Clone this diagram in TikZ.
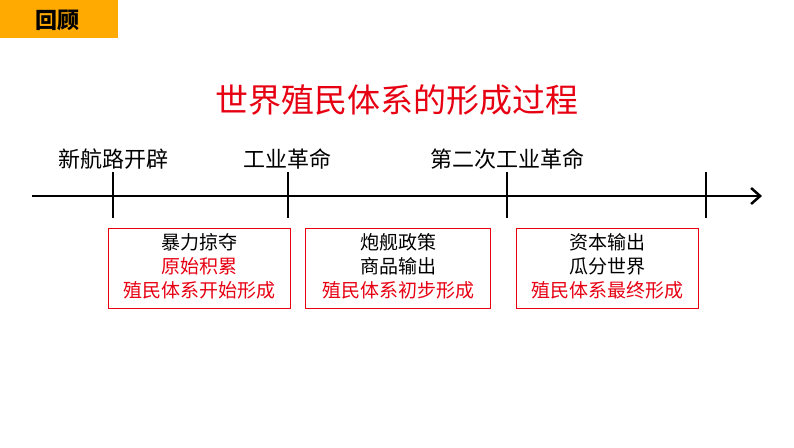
\documentclass[tikz,border=0pt]{standalone}
\usepackage{fontspec}
\setmainfont{Noto Sans CJK SC}
\usetikzlibrary{arrows.meta}
\definecolor{tabor}{RGB}{255,170,0}
\definecolor{myred}{RGB}{230,0,18}
\tikzset{
 lbl/.style={font=\fontsize{22}{26}\selectfont, text=black},
 box/.style={draw=myred, line width=1.2pt, minimum width=182pt, minimum height=80pt, anchor=north west, inner sep=0pt},
 tick/.style={line width=2.5pt},
}
\newcommand{\bx}[3]{\fontsize{19}{24}\selectfont\begin{tabular}{c}#1\\#2\\#3\end{tabular}}
\begin{document}
\begin{tikzpicture}[x=1pt,y=-1pt]
\useasboundingbox (0,0) rectangle (794,447);
\fill[tabor] (0,0) rectangle (118,38);
\node (tab) at (57,20) {\fontsize{22}{24}\selectfont\bfseries 回顾};
\node[text=myred] (title) at (397,100) {\fontsize{33}{38}\selectfont 世界殖民体系的形成过程};
\coordinate (s) at (32,196);
\coordinate (e) at (762,196);
\draw[line width=2.5pt,-{Straight Barb[length=9pt,width=16pt]}] (s) -- (e);
\foreach \x/\n in {113/a,288/b,507/c,706/d}{
  \draw[tick] (\x,172) -- (\x,218);
}
\node[lbl] (l1) at (113,159) {新航路开辟};
\node[lbl] (l2) at (287,159) {工业革命};
\node[lbl] (l3) at (507,159) {第二次工业革命};
\node[box] (b1) at (108,228) {};
\node at (b1.center) {\bx{暴力掠夺}{\textcolor{myred}{原始积累}}{\textcolor{myred}{殖民体系开始形成}}};
\node[box,minimum width=185pt] (b2) at (305,228) {};
\node at (b2.center) {\bx{炮舰政策}{商品输出}{\textcolor{myred}{殖民体系初步形成}}};
\node[box] (b3) at (516,228) {};
\node at (b3.center) {\bx{资本输出}{瓜分世界}{\textcolor{myred}{殖民体系最终形成}}};
\end{tikzpicture}
\end{document}
